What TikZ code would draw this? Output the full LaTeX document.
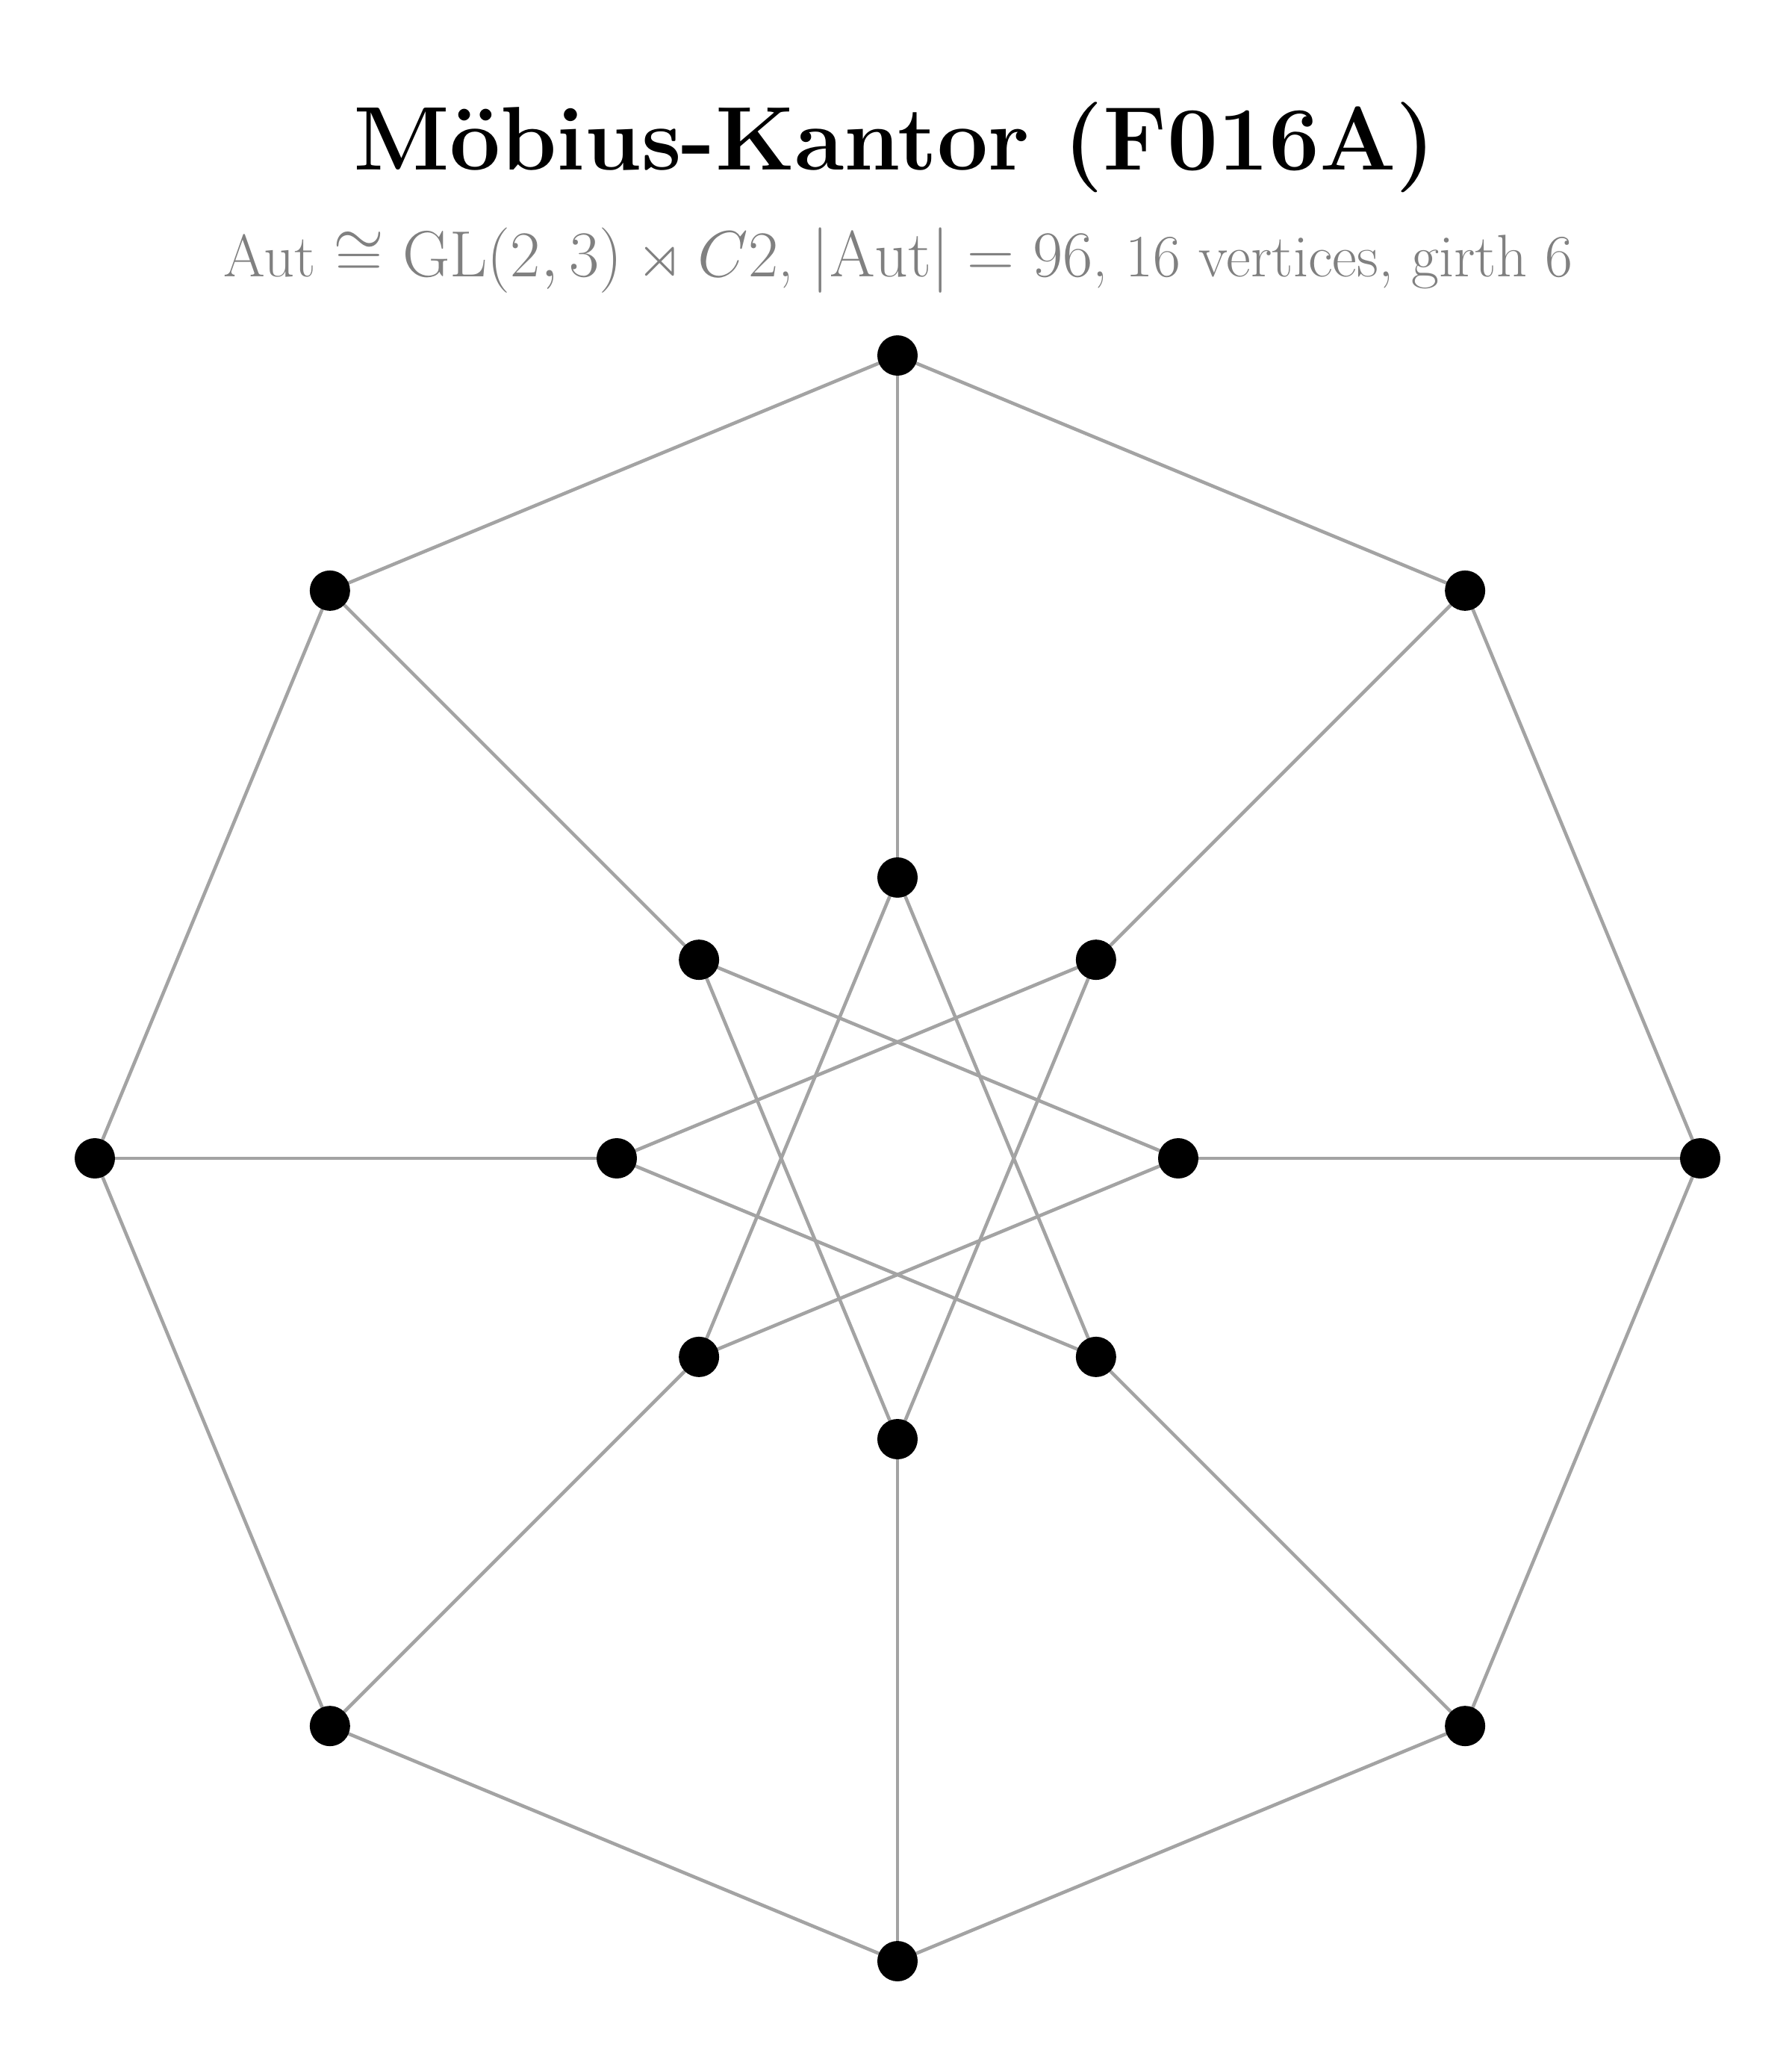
\documentclass[tikz,border=0pt]{standalone}
\usepackage{amsmath,amssymb}
\usetikzlibrary{calc}
\begin{document}
\begin{tikzpicture}[x=1cm,y=1cm,
  vert/.style={circle,fill=black,draw=none,inner sep=0pt,minimum size=0.54cm},
  edge/.style={draw=black!36,line width=1.3pt}]
\useasboundingbox (0,0) rectangle (24,-27.53);
\coordinate (c) at (12.02,-15.51);
\foreach \i in {0,...,7}{
  \pgfmathsetmacro{\a}{90-45*\i}
  \coordinate (o\i) at ($(c)+(\a:10.75)$);
  \coordinate (n\i) at ($(c)+(\a:3.76)$);
}
\foreach \i in {0,...,7}{
  \pgfmathtruncatemacro{\j}{mod(\i+1,8)}
  \pgfmathtruncatemacro{\k}{mod(\i+3,8)}
  \draw[edge] (o\i) -- (o\j);
  \draw[edge] (o\i) -- (n\i);
  \draw[edge] (n\i) -- (n\k);
}
\foreach \i in {0,...,7}{
  \node[vert] (vo\i) at (o\i) {};
  \node[vert] (vn\i) at (n\i) {};
}
\node[anchor=base,inner sep=0pt] (title) at (11.98,-2.27) {\fontsize{34.4}{40}\selectfont\bfseries M\"obius-Kantor (F016A)};
\node[anchor=base,inner sep=0pt,text=black!50] (sub) at (12.03,-3.70) {\fontsize{22.85}{27}\selectfont Aut $\cong \mathrm{GL}(2,3)\rtimes C2$, $|\mathrm{Aut}|=96$, 16 vertices, girth 6};
\end{tikzpicture}
\end{document}
